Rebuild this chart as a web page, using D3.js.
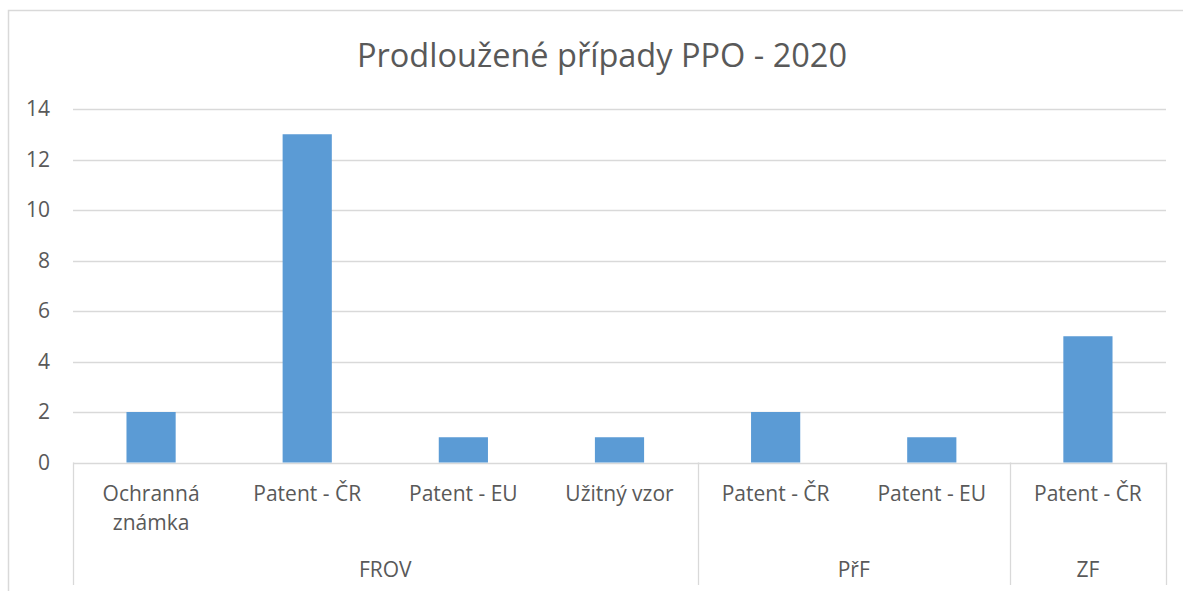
<!DOCTYPE html>
<html><head><meta charset="utf-8">
<script src="https://cdn.jsdelivr.net/npm/d3@7"></script>
<style>body{margin:0;background:#fff;}svg{display:block;font-family:"Open Sans",sans-serif;}</style>
</head><body>
<svg id="c" width="1183" height="591"></svg>
<script>
const title = "Prodloužené případy PPO - 2020";
const groups = ["FROV","FROV","FROV","FROV","PřF","PřF","ZF"];
const categories = [["Ochranná","známka"],["Patent - ČR"],["Patent - EU"],["Užitný vzor"],["Patent - ČR"],["Patent - EU"],["Patent - ČR"]];
const values = [2,13,1,1,2,1,5];
const yTicks = [0,2,4,6,8,10,12,14];

const svg = d3.select("#c");
const L=73, R=1166, T=109, B=462.5;
const textColor="#595959", gridColor="#d9d9d9";

svg.append("rect").attr("x",8.5).attr("y",10.5).attr("width",1200).attr("height",600)
  .attr("fill","#fff").attr("stroke",gridColor).attr("stroke-width",1.5);

svg.append("text").attr("x",602).attr("y",67).attr("text-anchor","middle")
  .attr("font-size",32.5).attr("fill",textColor).text(title);

const idx = d3.range(values.length);
const x = d3.scaleBand().domain(idx).range([L,R]).paddingInner(0).paddingOuter(0);
const y = d3.scaleLinear().domain([0,14]).range([B,T]);

// gridlines
svg.append("g").selectAll("line").data(yTicks).join("line")
  .attr("x1",L).attr("x2",R).attr("y1",d=>Math.round(y(d))+0.5).attr("y2",d=>Math.round(y(d))+0.5)
  .attr("stroke",gridColor).attr("stroke-width",1.3);

// y axis labels
const yAxis = d3.axisLeft(y).tickValues(yTicks).tickSize(0).tickPadding(0);
const ya = svg.append("g").attr("transform",`translate(${L-23},0)`).call(yAxis);
ya.select(".domain").remove();
ya.selectAll("text").attr("font-family","Open Sans").attr("font-size",21).attr("fill",textColor);

// bars
const bw = x.bandwidth()*0.315;
svg.append("g").selectAll("rect").data(values).join("rect")
  .attr("x",(d,i)=>x(i)+x.bandwidth()/2-bw/2).attr("width",bw)
  .attr("y",d=>y(d)).attr("height",d=>y(0)-y(d)).attr("fill","#5b9bd5");

// group spans
const grpNames = [];
groups.forEach((g,i)=>{ if(!grpNames.length || grpNames[grpNames.length-1].name!==g) grpNames.push({name:g,start:i,end:i}); else grpNames[grpNames.length-1].end=i; });
const seps = [x(0)].concat(grpNames.map(g=>x(g.end)+x.bandwidth()));
svg.append("g").selectAll("line").data(seps).join("line")
  .attr("x1",d=>Math.round(d)+0.5).attr("x2",d=>Math.round(d)+0.5).attr("y1",B).attr("y2",585)
  .attr("stroke",gridColor).attr("stroke-width",1.3);

// category labels
const cl = svg.append("g").attr("font-size",21).attr("fill",textColor).attr("text-anchor","middle");
categories.forEach((lines,i)=>{
  const t = cl.append("text").attr("x",x(i)+x.bandwidth()/2).attr("y",501);
  lines.forEach((ln,j)=>t.append("tspan").attr("x",x(i)+x.bandwidth()/2).attr("dy",j?29:0).text(ln));
});

// group labels
svg.append("g").selectAll("text").data(grpNames).join("text")
  .attr("x",g=>(x(g.start)+x(g.end)+x.bandwidth())/2).attr("y",577)
  .attr("text-anchor","middle").attr("font-size",21).attr("fill",textColor).text(g=>g.name);
</script>
</body></html>
